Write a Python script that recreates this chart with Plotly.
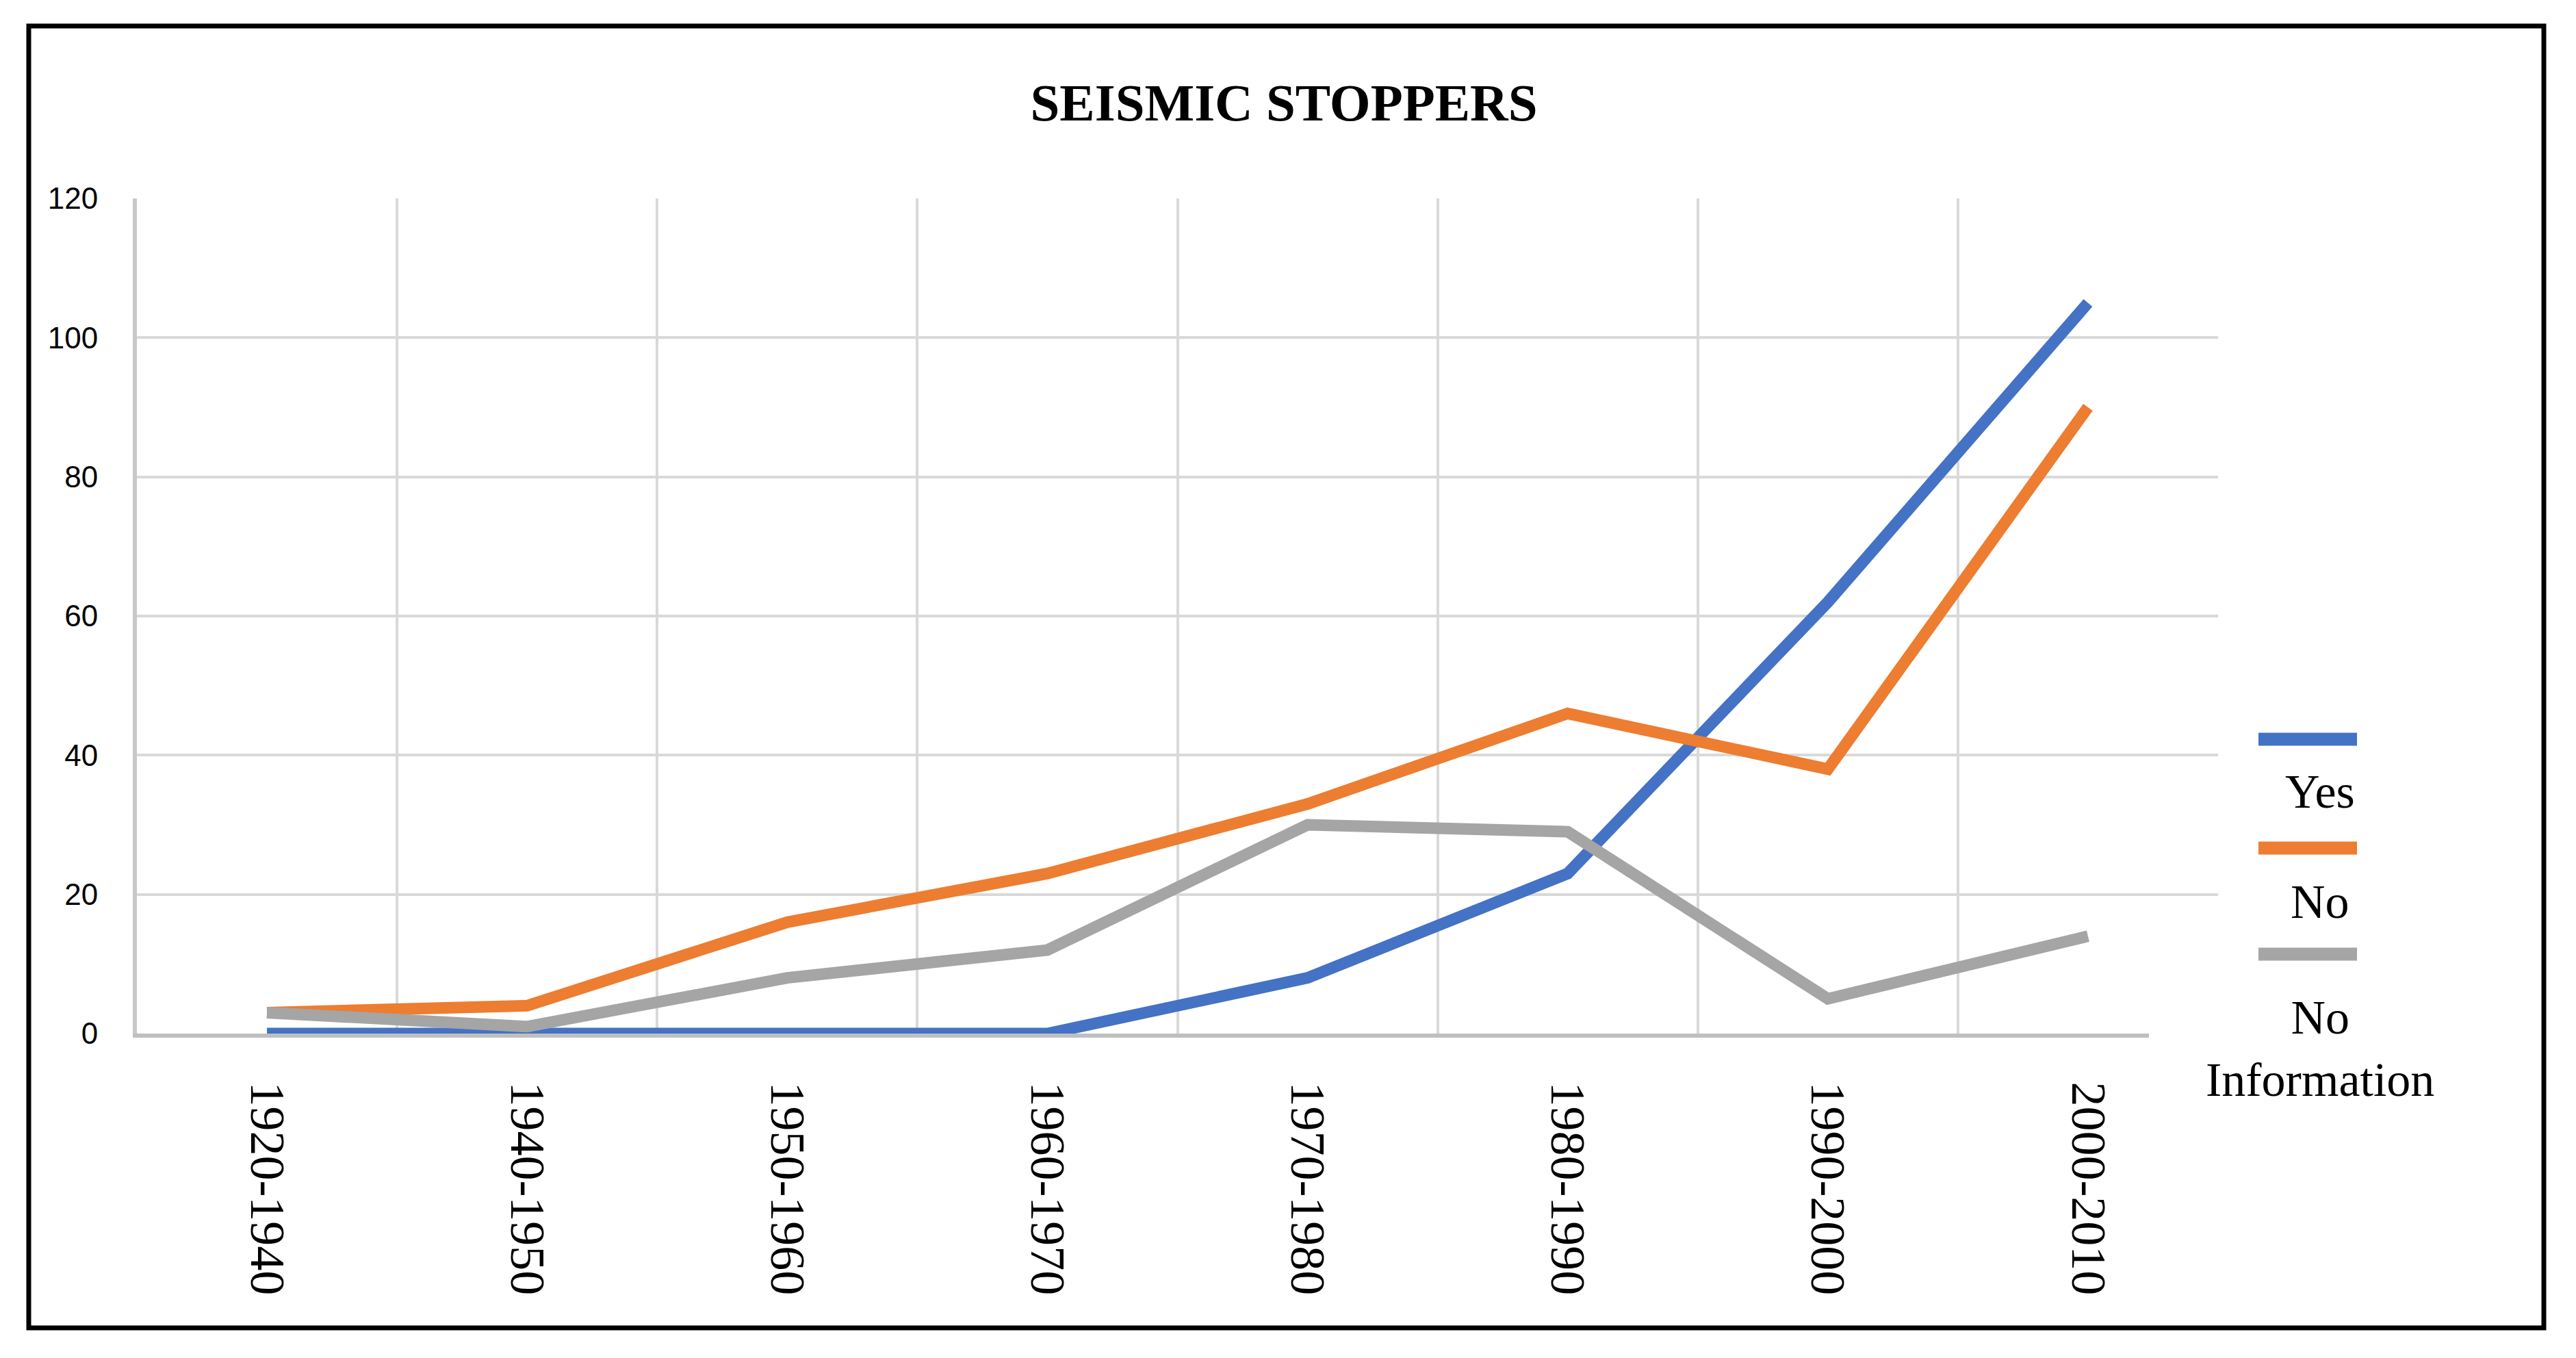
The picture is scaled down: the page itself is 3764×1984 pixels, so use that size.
import plotly.graph_objects as go

# ---------------- data ----------------
periods = ["1920-1940", "1940-1950", "1950-1960", "1960-1970",
           "1970-1980", "1980-1990", "1990-2000", "2000-2010"]
yes_vals = [0, 0, 0, 0, 8, 23, 62, 105]
no_vals = [3, 4, 16, 23, 33, 46, 38, 90]
noinfo_vals = [3, 1, 8, 12, 30, 29, 5, 14]

series_names = ["Yes", "No", "No<br>Information"]
series_colors = ["#4472C4", "#ED7D31", "#A5A5A5"]
y_ticks = [0, 20, 40, 60, 80, 100, 120]

# ---------------- layout geometry (page pixels) ----------------
W, H = 3764, 1984
BODY = 8                                # default body margin of the html page
PL, PR, PT, PB = 200, 3241, 290, 1510   # plot area edges on the page
FW, FH = W - 2 * BODY, H - 2 * BODY     # figure size


def px(x):
    return (x - PL) / (PR - PL)


def py(y):
    return (PB - y) / (PB - PT)


SERIF = "Liberation Serif, Times New Roman, serif"
SANS = "Liberation Sans, Arial, sans-serif"

fig = go.Figure()
for name, vals, col in zip(series_names, [yes_vals, no_vals, noinfo_vals], series_colors):
    fig.add_trace(go.Scatter(
        x=periods, y=vals, mode="lines", name=name.replace("<br>", " "),
        line=dict(color=col, width=17), showlegend=False,
    ))

shapes = []
# white box behind custom legend (covers axis line / last gridline end)
shapes.append(dict(type="rect", xref="paper", yref="paper",
                   x0=px(3140), x1=px(3650), y0=py(1433), y1=py(1700),
                   fillcolor="white", line=dict(width=0), layer="above"))
# outer frame
shapes.append(dict(type="rect", xref="paper", yref="paper",
                   x0=px(42), x1=px(3717), y0=py(1940), y1=py(38),
                   line=dict(color="black", width=7), fillcolor="rgba(0,0,0,0)",
                   layer="above"))

annotations = []
legend_line_y = [1080, 1239, 1394]
legend_text_y = [1156, 1317, 1532]
for name, col, ly, ty in zip(series_names, series_colors, legend_line_y, legend_text_y):
    shapes.append(dict(type="line", xref="paper", yref="paper",
                       x0=px(3300), x1=px(3444), y0=py(ly), y1=py(ly),
                       line=dict(color=col, width=19), layer="above"))
    annotations.append(dict(xref="paper", yref="paper", x=px(3390), y=py(ty),
                            text=name, showarrow=False, xanchor="center",
                            yanchor="middle", align="center",
                            font=dict(family=SERIF, size=70, color="black")))

fig.update_layout(
    width=FW, height=FH, autosize=False,
    margin=dict(l=PL - BODY, r=W - PR - BODY, t=PT - BODY, b=H - PB - BODY, pad=0),
    paper_bgcolor="white", plot_bgcolor="white",
    title=dict(text="<b>SEISMIC STOPPERS</b>",
               x=(1876 - BODY) / FW, y=1 - (149 - BODY) / FH,
               xref="container", yref="container", xanchor="center", yanchor="middle",
               font=dict(family=SERIF, size=77, color="black")),
    shapes=shapes,
    annotations=annotations,
    showlegend=False,
)

fig.update_xaxes(
    type="category", categoryorder="array", categoryarray=periods,
    range=[-0.5, len(periods) - 0.5],
    tickson="boundaries", ticks="", tickangle=90,
    showgrid=True, gridcolor="#d9d9d9", gridwidth=4,
    showline=True, linecolor="#bfbfbf", linewidth=6,
    zeroline=False, layer="below traces",
    tickfont=dict(family=SERIF, size=72, color="black"),
    ticklabelstandoff=50,
)
fig.update_yaxes(
    range=[0, 120], tickvals=y_ticks, ticks="",
    showgrid=True, gridcolor="#d9d9d9", gridwidth=4,
    showline=True, linecolor="#c8c8c8", linewidth=6,
    zeroline=False, layer="below traces",
    tickfont=dict(family=SANS, size=44, color="black"),
    ticklabelstandoff=42,
)

fig.write_html("out.html")
